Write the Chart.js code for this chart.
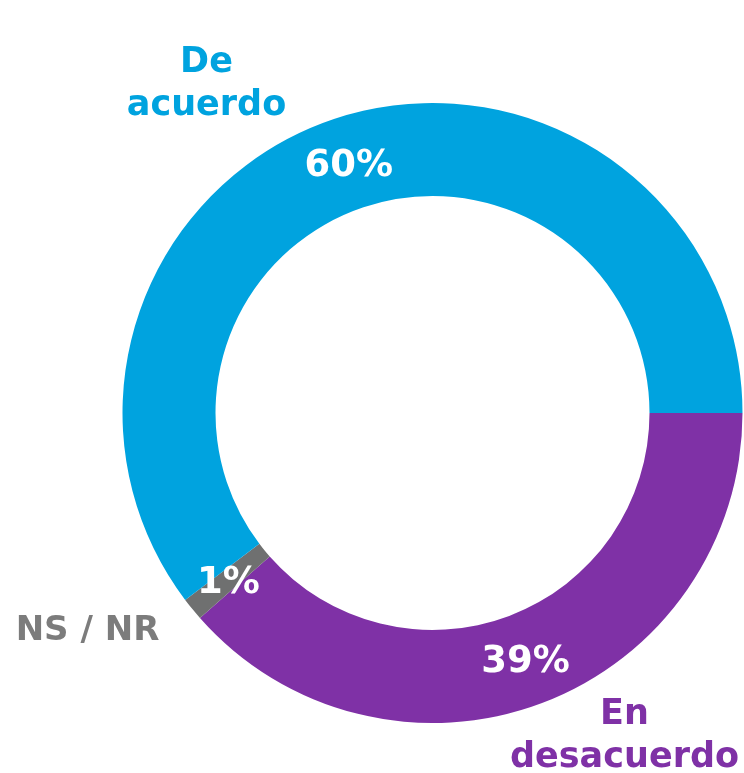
<!DOCTYPE html>
<html>
<head>
<meta charset="utf-8">
<script src="https://cdn.jsdelivr.net/npm/chart.js@4"></script>
<style>
    html, body { margin: 0; padding: 0; background: #fff; }
    #wrap { width: 744px; height: 773px; }
</style>
</head>
<body>
<div id="wrap"><canvas id="donut"></canvas></div>
<script>
// data, clockwise from 3 o'clock
const categories = ['En desacuerdo', 'NS / NR', 'De acuerdo'];
const values = [38.5, 1.2, 60.3];
const colors = ['#7F31A6', '#6F7070', '#00A3DF'];
const labelColors = ['#7F31A6', '#7C7C7C', '#00A3DF'];

const FONT = '"DejaVu Sans", sans-serif';

// outside category labels, offsets from chart centre (baseline of each line)
const outsideLabels = [
    {lines: ['En', 'desacuerdo'], dx: 192, dy: 311, size: 35},
    {lines: ['NS / NR'], dx: -345, dy: 227, size: 34},
    {lines: ['De', 'acuerdo'], dx: -226, dy: -341, size: 35}
];

const labelPlugin = {
    id: 'donutLabels',
    afterDatasetsDraw(chart) {
        const ctx = chart.ctx;
        const meta = chart.getDatasetMeta(0);
        ctx.save();
        ctx.textAlign = 'center';
        ctx.textBaseline = 'alphabetic';

        // percentages inside the ring
        meta.data.forEach((arc, i) => {
            const p = arc.tooltipPosition();
            ctx.fillStyle = '#ffffff';
            ctx.font = 'bold 37px ' + FONT;
            ctx.fillText(Math.round(values[i]) + '%', p.x, p.y + 13);
        });

        // category names outside
        const cx = meta.data[0].x;
        const cy = meta.data[0].y;
        outsideLabels.forEach((lbl, i) => {
            ctx.fillStyle = labelColors[i];
            ctx.font = 'bold ' + lbl.size + 'px ' + FONT;
            lbl.lines.forEach((t, j) => {
                ctx.fillText(t, cx + lbl.dx, cy + lbl.dy + j * 43);
            });
        });
        ctx.restore();
    }
};

new Chart(document.getElementById('donut'), {
    type: 'doughnut',
    data: {
        labels: categories,
        datasets: [{
            data: values,
            backgroundColor: colors,
            borderWidth: 0
        }]
    },
    options: {
        responsive: true,
        maintainAspectRatio: false,
        animation: false,
        rotation: 90,
        cutout: '70%',
        layout: {
            padding: {left: 122, right: 1, top: 103, bottom: 50}
        },
        plugins: {
            legend: {display: false},
            tooltip: {enabled: false}
        }
    },
    plugins: [labelPlugin]
});
</script>
</body>
</html>
